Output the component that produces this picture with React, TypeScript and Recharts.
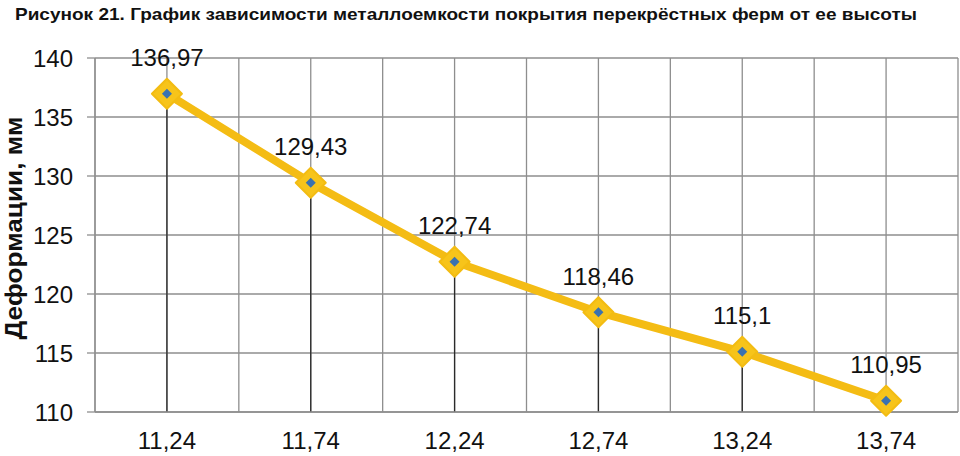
import { LineChart, Line, XAxis, YAxis, CartesianGrid, ReferenceLine, LabelList } from 'recharts';

const heights = ['11,24', '11,74', '12,24', '12,74', '13,24', '13,74'];
const deformations = [136.97, 129.43, 122.74, 118.46, 115.1, 110.95];
const valueLabels = ['136,97', '129,43', '122,74', '118,46', '115,1', '110,95'];
const yTicks = [110, 115, 120, 125, 130, 135, 140];

const data = heights.map((h, i) => ({ idx: i, height: h, value: deformations[i], label: valueLabels[i] }));
const gridXs = Array.from({ length: heights.length * 2 + 1 }, (_, i) => i / 2 - 0.5);

const FONT = '"Liberation Sans", Arial, sans-serif';

function DiamondDot(props: any) {
  const { cx, cy } = props;
  if (cx == null || cy == null) return null;
  const r = 15;
  const s = 5;
  return (
    <g>
      <polygon
        points={`${cx},${cy - r} ${cx + r},${cy} ${cx},${cy + r} ${cx - r},${cy}`}
        fill="#F7C41A"
        stroke="#F3BC12"
        strokeWidth={2}
        strokeLinejoin="round"
      />
      <polygon
        points={`${cx},${cy - s} ${cx + s},${cy} ${cx},${cy + s} ${cx - s},${cy}`}
        fill="#3A72B0"
      />
    </g>
  );
}

function ValueLabel(props: any) {
  const { x, y, value } = props;
  return (
    <text x={x} y={y - 36} dy="0.36em" textAnchor="middle" fontSize={24} fontFamily={FONT} fill="#111">
      {value}
    </text>
  );
}

export default function App() {
  return (
    <div style={{ position: 'fixed', left: 0, top: 0, width: 960, height: 456, background: '#fff' }}>
      <svg width={960} height={456} style={{ position: 'absolute', left: 0, top: 0 }}>
        <text
          x={15}
          y={20}
          fontFamily={FONT}
          fontWeight="bold"
          fontSize={17}
          fill="#111"
          textLength={902}
          lengthAdjust="spacingAndGlyphs"
        >
          Рисунок 21. График зависимости металлоемкости покрытия перекрёстных ферм от ее высоты
        </text>
        <text
          x={0}
          y={0}
          transform="translate(22 228) rotate(-90)"
          textAnchor="middle"
          fontFamily={FONT}
          fontWeight="bold"
          fontSize={23}
          fill="#111"
          textLength={223}
          lengthAdjust="spacingAndGlyphs"
        >
          Деформации, мм
        </text>
      </svg>
      <div style={{ position: 'absolute', left: 0, top: 0 }}>
        <LineChart width={960} height={456} data={data} margin={{ top: 58, right: 2, bottom: 4, left: 30 }}>
          <CartesianGrid vertical={false} stroke="#8e8e8e" strokeWidth={1.3} />
          {gridXs.map((gx) => (
            <ReferenceLine key={`g${gx}`} x={gx} stroke="#8e8e8e" strokeWidth={1.3} />
          ))}
          {data.map((d) => (
            <ReferenceLine
              key={`d${d.idx}`}
              segment={[
                { x: d.idx, y: 110 },
                { x: d.idx, y: d.value },
              ]}
              stroke="#2a2a2a"
              strokeWidth={1.3}
            />
          ))}
          <XAxis
            dataKey="idx"
            type="number"
            domain={[-0.5, 5.5]}
            ticks={data.map((d) => d.idx)}
            tickFormatter={(v) => heights[v]}
            height={40}
            tickSize={0}
            tickMargin={20}
            axisLine={{ stroke: '#8e8e8e', strokeWidth: 1.3 }}
            tick={{ fontSize: 24, fontFamily: FONT, fill: '#111' }}
          />
          <YAxis
            domain={[110, 140]}
            ticks={yTicks}
            width={65}
            tickSize={8}
            tickMargin={14}
            axisLine={{ stroke: '#8e8e8e', strokeWidth: 1.3 }}
            tickLine={{ stroke: '#8e8e8e', strokeWidth: 1.3 }}
            tick={{ fontSize: 24, fontFamily: FONT, fill: '#111' }}
          />
          <Line
            type="linear"
            dataKey="value"
            stroke="#F4BC14"
            strokeWidth={8}
            dot={<DiamondDot />}
            activeDot={false}
            isAnimationActive={false}
          >
            <LabelList dataKey="label" content={<ValueLabel />} />
          </Line>
        </LineChart>
      </div>
    </div>
  );
}
